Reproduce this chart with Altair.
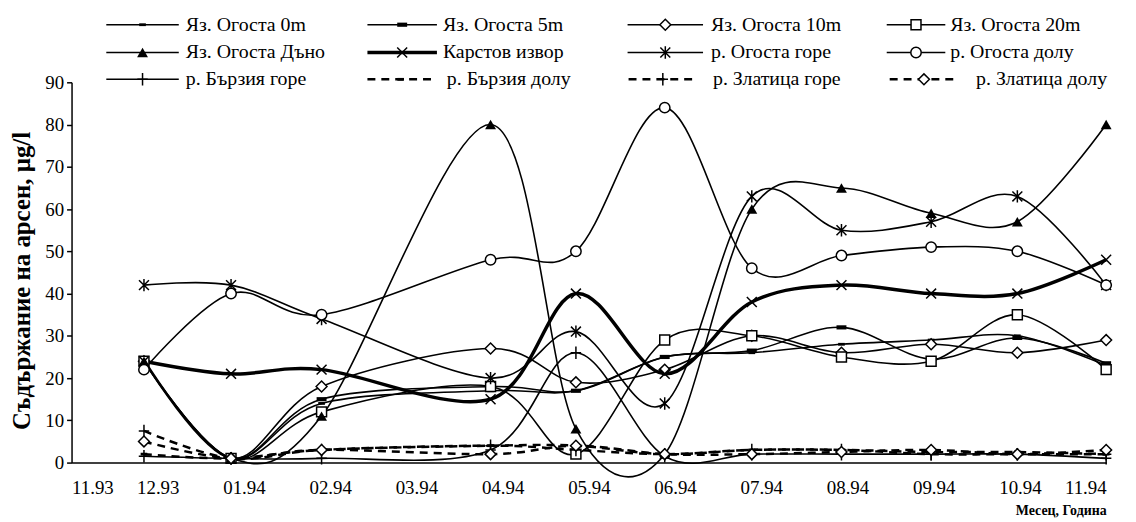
import altair as alt
import pandas as pd

# ---------------- data ----------------
tick_labels = ["11.93", "12.93", "01.94", "02.94", "03.94", "04.94", "05.94",
               "06.94", "07.94", "08.94", "09.94", "10.94", "11.94"]
# sampling dates expressed as months after 11.93
sample_pos = [0.84, 1.85, 2.90, 4.86, 5.85, 6.88, 7.89, 8.93, 9.97, 10.97, 12.0]

s_0m = [24, 1, 14, 17, 17, 25, 26, 28, 29, 30, 23]
s_5m = [24.5, 1, 15, 18, 17, 25, 26.5, 32, 24.5, 29.5, 23.5]
s_10m = [24, 1, 18, 27, 19, 22, 30, 26, 28, 26, 29]
s_20m = [24, 1, 12, 18, 2, 29, 30, 25, 24, 35, 22]
s_dno = [24, 1, 11, 80, 8, 2, 60, 65, 59, 57, 80]
s_karst = [24, 21, 22, 15, 40, 21, 38, 42, 40, 40, 48]
s_og_up = [42, 42, 34, 20, 31, 14, 63, 55, 57, 63, 42]
s_og_down = [22, 40, 35, 48, 50, 84, 46, 49, 51, 50, 42]
s_bz_up = [1.5, 1, 1, 3, 26, 1.5, 2, 2, 2, 2, 1]
s_bz_down = [2, 1, 3, 4, 4, 2, 3, 3, 2.5, 2.5, 2]
s_zl_up = [7.5, 1, 3, 4, 3, 2, 3, 3, 2, 2, 2]
s_zl_down = [5, 1, 3, 2, 4, 2, 2, 2.5, 3, 2, 3]

names = ["Яз. Огоста 0m", "Яз. Огоста 5m", "Яз. Огоста 10m", "Яз. Огоста 20m",
         "Яз. Огоста Дъно", "Карстов извор", "р. Огоста горе", "р. Огоста долу",
         "р. Бързия горе", "р. Бързия долу", "р. Златица горе", "р. Златица долу"]
values = [s_0m, s_5m, s_10m, s_20m, s_dno, s_karst, s_og_up, s_og_down,
          s_bz_up, s_bz_down, s_zl_up, s_zl_down]

# ---------------- styles ----------------
DASH = "M-1,-0.42L1,-0.42L1,0.42L-1,0.42Z"
XPATH = "M-1,-1L1,1M-1,1L1,-1"
AST = "M-1,-1L1,1M-1,1L1,-1M0,-1.25L0,1.25"
PLUS = "M-1,0L1,0M0,-1.2L0,1.2"

styles = [
    dict(w=1.6, dash=None, shape=DASH, kind="fill", size=45),
    dict(w=1.6, dash=None, shape=DASH, kind="fill", size=100),
    dict(w=1.6, dash=None, shape="diamond", kind="open", size=120),
    dict(w=1.6, dash=None, shape="square", kind="open", size=100),
    dict(w=1.6, dash=None, shape="triangle-up", kind="fill", size=120),
    dict(w=3.5, dash=None, shape=XPATH, kind="stroke", size=100),
    dict(w=1.6, dash=None, shape=AST, kind="stroke", size=100),
    dict(w=1.6, dash=None, shape="circle", kind="open", size=110),
    dict(w=1.6, dash=None, shape=PLUS, kind="stroke", size=110),
    dict(w=2.5, dash=[8, 6], shape=DASH, kind="fill", size=45),
    dict(w=2.5, dash=[8, 6], shape=PLUS, kind="stroke", size=110),
    dict(w=2.5, dash=[8, 6], shape="diamond", kind="open", size=120),
]

FONT = "Liberation Serif, Times New Roman, serif"
W, H = 1042, 383

xscale = alt.Scale(domain=[0, 12], nice=False, zero=False)
yscale = alt.Scale(domain=[0, 90], nice=False)

label_expr = "[" + ",".join("'%s'" % t for t in tick_labels) + "][datum.value]"

xaxis = alt.Axis(values=list(range(13)), labelExpr=label_expr, ticks=False,
                 labelPadding=16, labelFontSize=19, labelFont=FONT, labelColor="black",
                 domainColor="black", domainWidth=1.5, grid=False,
                 titleFont=FONT, titleFontSize=14,
                 titleFontWeight="bold", titleColor="black", titleAnchor="end",
                 titleAlign="right", titleX=W, titleY=48, titleBaseline="middle")
yaxis = alt.Axis(values=list(range(0, 91, 10)), tickSize=5, tickColor="black",
                 tickWidth=1.5, labelPadding=3, labelFontSize=19, labelFont=FONT,
                 labelColor="black", domainColor="black", domainWidth=1.5, grid=False,
                 titleFont=FONT, titleFontSize=25,
                 titleFontWeight="bold", titleColor="black", titleX=-50, titleY=H / 2 + 8,
                 titleAlign="center", titleBaseline="middle", titleAngle=270)

rows = []
for n, v in zip(names, values):
    for p, val in zip(sample_pos, v):
        rows.append({"series": n, "pos": p, "val": val})
df = pd.DataFrame(rows)


def point_kw(st):
    base = dict(shape=st["shape"], size=st["size"], opacity=1, strokeWidth=1.5)
    if st["kind"] == "fill":
        base.update(filled=True, color="black")
    elif st["kind"] == "open":
        base.update(fill="white", stroke="black", fillOpacity=1)
    else:
        base.update(filled=False, stroke="black")
    return base


enc = dict(x=alt.X("pos:Q", scale=xscale, axis=xaxis, title="Месец, Година"),
           y=alt.Y("val:Q", scale=yscale, axis=yaxis, title="Съдържание на арсен, µg/l"))

layers = []
for n, st in zip(names, styles):
    d = df[df.series == n]
    lkw = dict(interpolate="cardinal", color="black", strokeWidth=st["w"])
    if st["dash"]:
        lkw["strokeDash"] = st["dash"]
    layers.append(alt.Chart(d).mark_line(**lkw).encode(**enc))

for n, st in zip(names, styles):
    d = df[df.series == n]
    layers.append(alt.Chart(d).mark_point(**point_kw(st)).encode(**enc))

# ---------------- legend (3 rows x 4 columns), positions relative to plot origin ----
row_y = [-58, -30, -3]
line_start = [[35, 298, 560, 821], [35, 298, 560, 821], [35, 298, 561, 824]]
line_end = [[108, 368, 636, 880], [108, 368, 636, 880], [108, 365, 630, 893]]
label_x = [[115, 374, 644, 885], [115, 374, 644, 885], [115, 378, 646, 911]]
legend_df = pd.DataFrame({"k": [0]})
for i, (n, st) in enumerate(zip(names, styles)):
    r, c = divmod(i, 4)
    x0 = line_start[r][c]
    x1 = line_end[r][c]
    yy = row_y[r]
    rkw = dict(color="black", strokeWidth=st["w"])
    if st["dash"]:
        rkw["strokeDash"] = st["dash"]
    layers.append(alt.Chart(legend_df).mark_rule(**rkw).encode(
        x=alt.value(x0), x2=alt.value(x1), y=alt.value(yy)))
    layers.append(alt.Chart(legend_df).mark_point(**point_kw(st)).encode(
        x=alt.value((x0 + x1) / 2), y=alt.value(yy)))
    layers.append(alt.Chart(legend_df).mark_text(
        align="left", baseline="middle", font=FONT, fontSize=20, color="black",
        text=n).encode(x=alt.value(label_x[r][c]), y=alt.value(yy)))

chart = alt.layer(*layers).properties(
    width=W, height=H,
    autosize=alt.AutoSizeParams(type="none"),
    padding={"left": 64, "top": 73, "right": 22, "bottom": 58},
).configure_view(strokeWidth=0)

chart.save("out.html", embed_options={"renderer": "svg", "actions": False})
